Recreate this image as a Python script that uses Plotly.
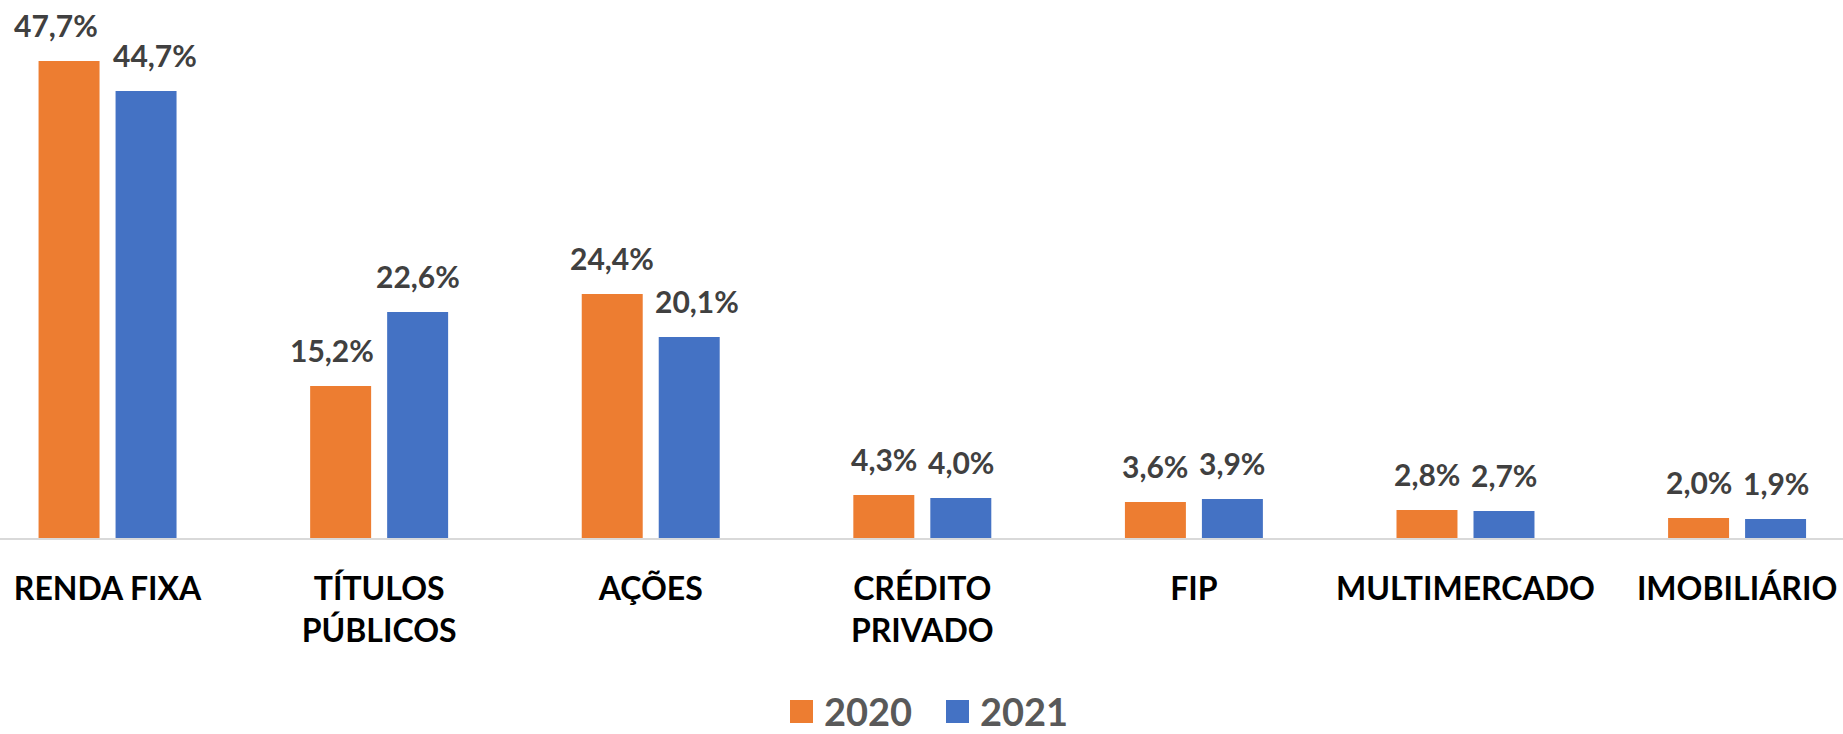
import plotly.graph_objects as go

categories = ["RENDA FIXA", "TÍTULOS<br>PÚBLICOS", "AÇÕES", "CRÉDITO<br>PRIVADO", "FIP", "MULTIMERCADO", "IMOBILIÁRIO"]
values_2020 = [47.7, 15.2, 24.4, 4.3, 3.6, 2.8, 2.0]
values_2021 = [44.7, 22.6, 20.1, 4.0, 3.9, 2.7, 1.9]
series_names = ["2020", "2021"]

# styling
colors = ["#ED7D31", "#4472C4"]
label_dx = [[-13, -9, 0, 0, 0, 0, 0], [9, 0, 8, 0, 0, 0, 0]]
FONT = "Lato"
W, H = 1843, 734
plot_bottom = 538

fig = go.Figure()
for name, vals, col in zip(series_names, [values_2020, values_2021], colors):
    fig.add_trace(go.Bar(x=categories, y=vals, name=name, marker=dict(color=col, line=dict(width=0)),
                         showlegend=False, hoverinfo="x+y"))

def fmt(v):
    return f"{v:.1f}".replace(".", ",") + "%"

annotations = []
for si, vals in enumerate([values_2020, values_2021]):
    side = -1 if si == 0 else 1
    for ci, (c, v) in enumerate(zip(categories, vals)):
        annotations.append(dict(x=c, y=v, xref="x", yref="y", text=fmt(v), showarrow=False,
                                yanchor="bottom", xanchor="center", xshift=side * 38.5 + label_dx[si][ci], yshift=16,
                                font=dict(family=FONT, size=30, color="#404040", weight="bold")))

# manual legend
leg_cy = 711
leg_y = (plot_bottom - leg_cy) / plot_bottom
shapes = []
for name, col, sq_x, tx in zip(series_names, colors, [790, 946], [822, 978]):
    shapes.append(dict(type="rect", xref="paper", yref="paper",
                       x0=sq_x / W, x1=(sq_x + 23) / W,
                       y0=(plot_bottom - (leg_cy + 12)) / plot_bottom, y1=(plot_bottom - (leg_cy - 11)) / plot_bottom,
                       fillcolor=col, line=dict(width=0)))
    annotations.append(dict(x=tx / W, y=leg_y, xref="paper", yref="paper", text=name, showarrow=False,
                            xanchor="left", yanchor="middle",
                            font=dict(family=FONT, size=38, color="#595959", weight="bold")))

fig.update_layout(
    width=W, height=H,
    margin=dict(l=0, r=0, t=0, b=H - plot_bottom),
    paper_bgcolor="white", plot_bgcolor="white",
    barmode="group", bargap=0.433, bargroupgap=0.208,
    annotations=annotations, shapes=shapes,
    font=dict(family=FONT),
)
fig.update_xaxes(range=[-0.396, 6.39], showline=True, linecolor="#D9D9D9", linewidth=2,
                 showgrid=False, ticks="", ticklabelstandoff=22,
                 tickfont=dict(family=FONT, size=32, color="#000000", weight="bold"))
fig.update_yaxes(range=[0, 53.8], visible=False, showgrid=False)

fig.write_html("out.html", config={"displayModeBar": False},
               post_script="document.body.style.margin='0';document.body.style.overflow='hidden';")
